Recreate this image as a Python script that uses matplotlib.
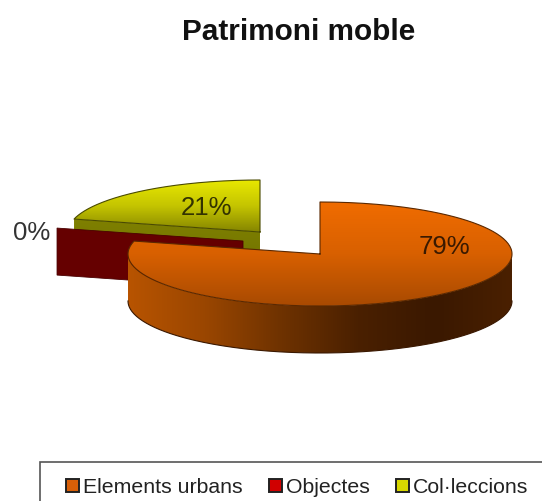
import numpy as np
import matplotlib
matplotlib.use('Agg')
import matplotlib.pyplot as plt
from matplotlib.colors import LinearSegmentedColormap
from matplotlib.patches import Polygon, Rectangle

plt.rcParams['font.family'] = ['Liberation Sans', 'DejaVu Sans']

title = 'Patrimoni moble'
categories = ['Elements urbans', 'Objectes', 'Col·leccions']
values = [79, 0, 21]
legend_colors = ['#D85F08', '#D00000', '#D8D800']
legend_x = [66, 269, 396]

# pie geometry in pixels
cx, cy = 320, 255
rx, ry = 192, 52
depth = 47
offsets = [(0, 0), (-77, -13), (-60, -22)]

fig = plt.figure(figsize=(5.42, 5.02), dpi=100)
ax = fig.add_axes([0, 0, 1, 1])


def arc(a0, a1, dx=0, dy=0, drop=0):
    # angles in degrees clockwise from 12 o'clock
    t = np.radians(np.linspace(a0, a1, 200))
    return np.column_stack([cx + dx + rx * np.sin(t),
                            cy + dy + drop - ry * np.cos(t)])


def fill_grad(pts, colors, horizontal=False):
    poly = Polygon(pts, closed=True, fc='none', ec='none', transform=ax.transData)
    ax.add_patch(poly)
    x0, y0 = pts.min(axis=0)
    x1, y1 = pts.max(axis=0)
    g = np.linspace(0, 1, 256)
    g = g[None, :] if horizontal else g[:, None]
    cmap = LinearSegmentedColormap.from_list('g', colors)
    im = ax.imshow(g, cmap=cmap, extent=[x0, x1, y1, y0], aspect='auto',
                   interpolation='bilinear', zorder=ax_z[0])
    im.set_clip_path(poly)
    ax_z[0] += 1


def outline(pts, color, lw=0.8):
    ax.plot(pts[:, 0], pts[:, 1], color=color, lw=lw, zorder=ax_z[0])
    ax_z[0] += 1


ax_z = [1]
stops = np.cumsum([0] + values) * 3.6
apex = [(cx + dx, cy + dy) for dx, dy in offsets]

# Col·leccions, drawn first since it sits at the back
dx, dy = offsets[2]
top = np.vstack([[apex[2]], arc(stops[2], stops[3], dx, dy)])
face = np.array([apex[2], top[1], top[1] + [0, depth], np.array(apex[2]) + [0, depth]])
fill_grad(face, ['#7F8000', '#6E7000'])
fill_grad(top, ['#E8E800', '#C4C400', '#858500'])
outline(np.vstack([top, top[:1]]), '#4A4A00')

# Objectes, 0% so only its cut face shows
edge = arc(stops[1], stops[2], *offsets[1])[0]
face = np.array([apex[1], edge, edge + [0, depth], np.array(apex[1]) + [0, depth]])
ax.add_patch(Polygon(face, closed=True, fc='#650000', ec='#4A0000', lw=0.6, zorder=ax_z[0]))
ax_z[0] += 1

# Elements urbans
side = np.vstack([arc(90, 270), arc(270, 90, drop=depth)])
fill_grad(side, ['#B85400', '#9A4600', '#6E3200', '#4A2000', '#3A1800', '#4A2000'], horizontal=True)
outline(arc(90, 270, drop=depth), '#3A1800')
top = np.vstack([[apex[0]], arc(stops[0], stops[1])])
fill_grad(top, ['#F06C00', '#D86000', '#A84A02'])
outline(np.vstack([top, top[:1]]), '#5A2800')

# pct labels
ax.text(444, 247, f'{values[0]}%', ha='center', va='center', fontsize=18.5, color='#3A1A00', zorder=50)
ax.text(32, 233, f'{values[1]}%', ha='center', va='center', fontsize=18.5, color='#333333', zorder=50)
ax.text(206, 208, f'{values[2]}%', ha='center', va='center', fontsize=18.5, color='#333300', zorder=50)

ax.text(299, 32, title, ha='center', va='center', fontsize=21.4, fontweight='bold', color='#111111', zorder=50)

# legend box runs off the bottom right of the picture
ax.add_patch(Rectangle((40, 463), 520, 60, fc='white', ec='#555555', lw=1.2, zorder=40))
for name, c, x in zip(categories, legend_colors, legend_x):
    ax.add_patch(Rectangle((x, 480), 13, 13, fc=c, ec='#222222', lw=1.4, zorder=50))
    ax.text(x + 17, 488, name, ha='left', va='center', fontsize=15.3, color='#222222', zorder=50)

ax.set_xlim(0, 542)
ax.set_ylim(502, 0)
ax.axis('off')
fig.savefig('out.png', dpi=100)
